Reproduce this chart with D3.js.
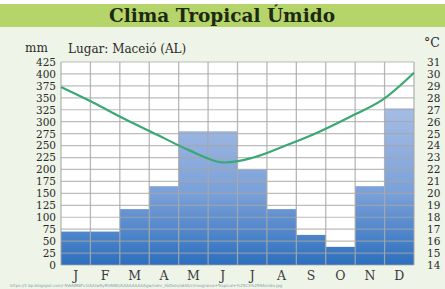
<!DOCTYPE html>
<html>
<head>
<meta charset="utf-8">
<script src="https://cdn.jsdelivr.net/npm/d3@7"></script>
<style>
  body { margin: 0; background: #fff; }
  text { font-family: "DejaVu Serif", serif; }
</style>
</head>
<body>
<div id="chart"></div>
<script>
// data
let months = ["J", "F", "M", "A", "M", "J", "J", "A", "S", "O", "N", "D"];
let rain = [70, 70, 117, 165, 280, 280, 200, 117, 63, 38, 165, 328];   // mm
let temp = [28.9, 27.6, 26.2, 24.9, 23.6, 22.6, 23.0, 24.0, 25.1, 26.4, 27.8, 30.1]; // °C
let mmTicks = d3.range(0, 426, 25);
let tempTicks = d3.range(14, 32, 1);

function getConfig() {
  let width = 445;
  let height = 289;
  let margin = { top: 62, bottom: 24, left: 61, right: 31 };
  let bodyHeight = height - margin.top - margin.bottom;
  let bodyWidth = width - margin.left - margin.right;
  let container = d3.select("#chart").append("svg")
    .attr("width", width)
    .attr("height", height);
  return { width, height, margin, bodyHeight, bodyWidth, container };
}

function getScales(config) {
  let { bodyWidth, bodyHeight } = config;
  let xScale = d3.scaleBand().domain(d3.range(12)).range([0, bodyWidth]);
  let xLine = d3.scalePoint().domain(d3.range(12)).range([0, bodyWidth]);
  let yScale = d3.scaleLinear().domain([0, 425]).range([bodyHeight, 0]);
  let tScale = d3.scaleLinear().domain([14, 31]).range([bodyHeight, 0]);
  return { xScale, xLine, yScale, tScale };
}

function drawBackground(config) {
  let { container, width, height } = config;
  container.append("rect")
    .attr("width", width).attr("height", height)
    .attr("fill", "#eef4e7");
  container.append("rect")
    .attr("width", width).attr("height", 4)
    .attr("fill", "#ffffff");
  container.append("rect")
    .attr("y", 4).attr("width", width).attr("height", 23)
    .attr("fill", "#b5d46a");
  container.append("text")
    .attr("x", 222).attr("y", 22)
    .attr("text-anchor", "middle")
    .style("font-size", "18.5px")
    .style("font-weight", "bold")
    .attr("fill", "#1c2a12")
    .text("Clima Tropical Úmido");
}

function drawChart(config, scales) {
  let { container, margin, bodyWidth, bodyHeight } = config;
  let { xScale, xLine, yScale, tScale } = scales;

  let body = container.append("g")
    .attr("transform", "translate(" + margin.left + "," + margin.top + ")");

  body.append("rect")
    .attr("width", bodyWidth).attr("height", bodyHeight)
    .attr("fill", "#ffffff");

  // gradient for the rain bars
  let grad = container.append("defs").append("linearGradient")
    .attr("id", "barGrad")
    .attr("gradientUnits", "userSpaceOnUse")
    .attr("x1", 0).attr("x2", 0)
    .attr("y1", yScale(330)).attr("y2", yScale(0));
  grad.append("stop").attr("offset", "0%").attr("stop-color", "#a6bde5");
  grad.append("stop").attr("offset", "55%").attr("stop-color", "#7aa0d8");
  grad.append("stop").attr("offset", "100%").attr("stop-color", "#2c6fbe");

  body.selectAll(".bar")
    .data(rain)
    .enter()
    .append("rect")
      .attr("class", "bar")
      .attr("x", (d, i) => xScale(i))
      .attr("y", d => yScale(d))
      .attr("width", xScale.bandwidth())
      .attr("height", d => bodyHeight - yScale(d))
      .attr("fill", "url(#barGrad)");

  // grid over everything
  body.selectAll(".hgrid")
    .data(mmTicks)
    .enter()
    .append("line")
      .attr("x1", 0).attr("x2", bodyWidth)
      .attr("y1", d => yScale(d)).attr("y2", d => yScale(d))
      .attr("stroke", "#a6a6a6")
      .attr("stroke-opacity", 0.75)
      .attr("stroke-width", 1.2);
  body.selectAll(".vgrid")
    .data(d3.range(13))
    .enter()
    .append("line")
      .attr("x1", d => d * xScale.step()).attr("x2", d => d * xScale.step())
      .attr("y1", 0).attr("y2", bodyHeight)
      .attr("stroke", "#a6a6a6")
      .attr("stroke-opacity", 0.8)
      .attr("stroke-width", 1.3);

  // temperature line
  let line = d3.line()
    .x((d, i) => xLine(i))
    .y(d => tScale(d))
    .curve(d3.curveCatmullRom);
  body.append("path")
    .datum(temp)
    .attr("d", line)
    .attr("fill", "none")
    .attr("stroke", "#3aa873")
    .attr("stroke-width", 2.2);

  // left axis
  let left = body.append("g")
    .call(d3.axisLeft(yScale).tickValues(mmTicks).tickSize(0).tickPadding(5));
  left.select(".domain").remove();
  left.selectAll("text")
    .style("font-family", "DejaVu Serif, serif")
    .style("font-size", "10.5px")
    .attr("fill", "#2a2a2a");

  // right axis
  let right = body.append("g")
    .attr("transform", "translate(" + bodyWidth + ",0)")
    .call(d3.axisRight(tScale).tickValues(tempTicks).tickSize(0).tickPadding(13));
  right.select(".domain").remove();
  right.selectAll("text")
    .style("font-family", "DejaVu Serif, serif")
    .style("font-size", "10.5px")
    .attr("fill", "#2a2a2a");

  // month letters
  let bottom = body.append("g")
    .attr("transform", "translate(0," + bodyHeight + ")")
    .call(d3.axisBottom(xScale).tickFormat(i => months[i]).tickSize(0).tickPadding(6));
  bottom.select(".domain").remove();
  bottom.selectAll("text")
    .style("font-family", "DejaVu Serif, serif")
    .style("font-size", "12.5px")
    .attr("fill", "#3a3a3a");

  // unit labels
  container.append("text")
    .attr("x", 25).attr("y", 52)
    .style("font-size", "12px")
    .attr("fill", "#2a2a2a")
    .text("mm");
  container.append("text")
    .attr("x", 68).attr("y", 53)
    .style("font-size", "12px")
    .attr("fill", "#2a2a2a")
    .text("Lugar: Maceió (AL)");
  container.append("text")
    .attr("x", 424).attr("y", 47)
    .style("font-size", "12.5px")
    .attr("fill", "#2a2a2a")
    .text("°C");

  // source line
  container.append("text")
    .attr("x", 10).attr("y", 287)
    .style("font-family", "DejaVu Sans, sans-serif")
    .style("font-size", "4px")
    .attr("fill", "#8a9aa8")
    .text("https://1.bp.blogspot.com/-5VeNM8Fv1IA/Uw5yRhlNWI/AAAAAAAAAgw/ndnr_XbDoIs/s640/climograma+Tropical+%25C3%259Amido.jpg");
}

let config = getConfig();
let scales = getScales(config);
drawBackground(config);
drawChart(config, scales);
</script>
</body>
</html>
